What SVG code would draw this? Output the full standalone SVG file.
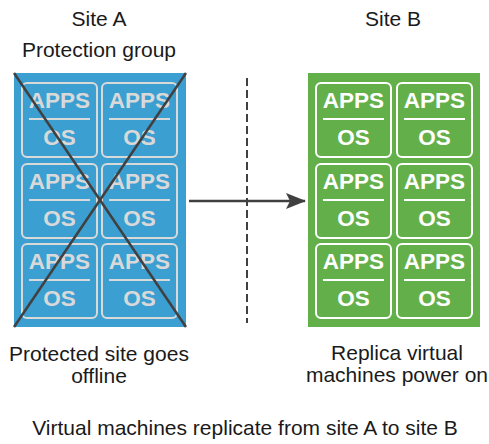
<svg xmlns="http://www.w3.org/2000/svg" width="489" height="444" viewBox="0 0 489 444">
<style>
.lbl{font-family:"Liberation Sans",Arial,sans-serif;font-size:21px;fill:#1a1a1a;text-anchor:middle}
.vt{font-family:"Liberation Sans",Arial,sans-serif;font-size:22.5px;font-weight:bold;text-anchor:middle;fill:currentColor}
.cb{fill:none;stroke:currentColor;stroke-width:2}
.bc{color:#d9d9d9}
.gc{color:#ffffff}
.dk{stroke:#404040;fill:none}
</style>
<defs>
<g id="vm">
<rect class="cb" x="0" y="0" width="75" height="74" rx="5"/>
<line class="cb" x1="7" y1="36" x2="68" y2="36"/>
<text class="vt" x="37.5" y="25">APPS</text>
<text class="vt" x="37.5" y="62">OS</text>
</g>
<marker id="ah" markerWidth="20" markerHeight="18" refX="19" refY="9" orient="auto" markerUnits="userSpaceOnUse">
<path d="M0,1 L20,9 L0,17 L4,9 Z" fill="#404040"/>
</marker>
</defs>
<text class="lbl" x="99" y="26">Site A</text>
<text class="lbl" x="99" y="57">Protection group</text>
<text class="lbl" x="393" y="26">Site B</text>
<g id="siteA">
<rect x="14" y="73" width="172" height="254" fill="#3b9fd2"/>
<g class="bc">
<use href="#vm" x="22" y="83"/>
<use href="#vm" x="102" y="83"/>
<use href="#vm" x="22" y="164"/>
<use href="#vm" x="102" y="164"/>
<use href="#vm" x="22" y="244"/>
<use href="#vm" x="102" y="244"/>
</g>
<line class="dk" x1="14" y1="73" x2="186" y2="327" stroke-width="2.5"/>
<line class="dk" x1="186" y1="73" x2="14" y2="327" stroke-width="2.5"/>
</g>
<g id="siteB">
<rect x="308" y="73" width="172" height="254" fill="#63b04a"/>
<g class="gc">
<use href="#vm" x="316" y="83"/>
<use href="#vm" x="397" y="83"/>
<use href="#vm" x="316" y="164"/>
<use href="#vm" x="397" y="164"/>
<use href="#vm" x="316" y="244"/>
<use href="#vm" x="397" y="244"/>
</g>
</g>
<g id="connectors">
<line class="dk" x1="247" y1="78" x2="247" y2="323" stroke-width="2" stroke-dasharray="8 4"/>
<line class="dk" x1="189" y1="201" x2="305" y2="201" stroke-width="2.5" marker-end="url(#ah)"/>
</g>
<text class="lbl" x="99" y="361">Protected site goes</text>
<text class="lbl" x="99" y="383">offline</text>
<text class="lbl" x="397" y="360">Replica virtual</text>
<text class="lbl" x="397" y="382">machines power on</text>
<text class="lbl" x="245" y="435">Virtual machines replicate from site A to site B</text>
</svg>
